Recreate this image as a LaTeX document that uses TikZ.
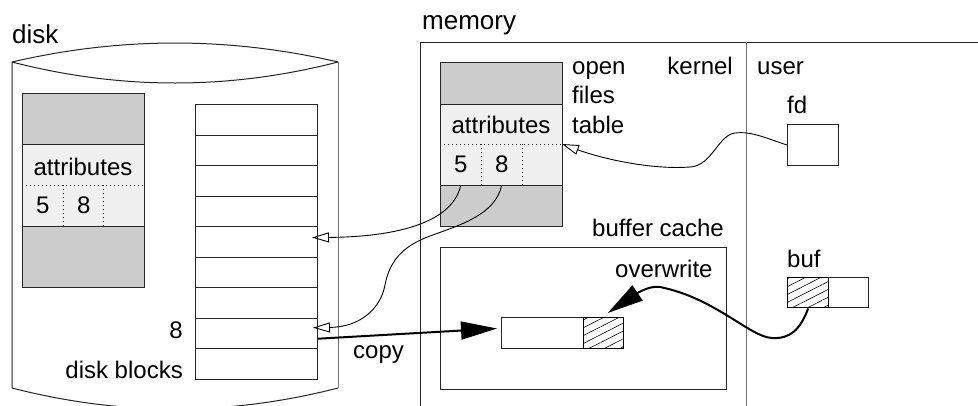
\documentclass[tikz,border=0pt]{standalone}
\usepackage{fontspec}
\setmainfont{Liberation Sans}
\usetikzlibrary{arrows.meta,patterns.meta}
\definecolor{inodegray}{HTML}{CCCCCC}
\definecolor{attrfill}{HTML}{F0F0F0}
\tikzset{
 ln/.style={line width=1pt, draw=black!85},
 lngray/.style={line width=1pt, draw=black!55},
 box/.style={ln, rectangle, inner sep=0pt, anchor=north west},
 cell/.style={rectangle, inner sep=0pt, anchor=north west, minimum width=41pt, minimum height=41pt, font=\fontsize{24}{28}\selectfont},
 txt/.style={inner sep=0pt, font=\fontsize{24}{28}\selectfont},
 big/.style={inner sep=0pt, font=\fontsize{26}{30}\selectfont},
 dots/.style={line width=1pt, dash pattern=on 1.2pt off 2.8pt, draw=black!85},
 ptr/.style={line width=0.9pt, draw=black, -{Triangle[open,length=17pt,width=10pt]}},
 bold/.style={line width=2pt, draw=black, -{Triangle[length=36pt,width=18pt]}},
 hatch/.style={pattern={Lines[angle=27,distance=7pt,line width=0.6pt]}, line width=1.4pt, draw=black},
}
\begin{document}
\begin{tikzpicture}[x=1pt,y=-1pt]
\useasboundingbox (0,0) rectangle (978,405);
\fill[white] (0,0) rectangle (978,405);
\clip (0,0) rectangle (978,405);

% ---------- disk ----------
\node[big, anchor=base west] (ldisk) at (12,43) {disk};
\draw[ln] (12,62) .. controls (120.7,36.7) and (229.3,36.7) .. (338,62);
\draw[ln] (12,62) .. controls (120.7,90) and (229.3,90) .. (338,62);
\draw[ln] (12,62) -- (12,388) .. controls (120.7,416) and (229.3,416) .. (338,388);
\draw[lngray] (338,62) -- (338,388);

% disk inode
\node[box, fill=inodegray, minimum width=122pt, minimum height=194pt] (dinode) at (22,93) {};
\node[box, fill=attrfill, minimum width=122pt, minimum height=82pt] (dattr) at (22,144) {};
\draw[dots] (22,185) -- (144,185);
\draw[dots] (63,185) -- (63,226);
\draw[dots] (103,185) -- (103,226);
\node[txt, anchor=base] (dattrtxt) at (83,175) {attributes};
\node[cell] (d5) at (22,185) {5};
\node[cell] (d8) at (63,185) {8};

% disk blocks
\foreach \i in {1,...,9}
  \node[box, minimum width=122pt, minimum height=30.56pt] (b\i) at (195,{104+30.56*(\i-1)}) {};
\node[txt, anchor=base east] (l8) at (183,338) {8};
\node[txt, anchor=base east] (ldb) at (183,378) {disk blocks};

% ---------- memory ----------
\node[big, anchor=base west] (lmem) at (422,29) {memory};
\draw[ln] (420,420) -- (420,42) -- (990,42);
\draw[lngray] (746,42) -- (746,420);

% memory inode
\node[box, fill=inodegray, minimum width=122pt, minimum height=164pt] (minode) at (440,62) {};
\node[box, fill=attrfill, minimum width=122pt, minimum height=81pt] (mattr) at (440,104) {};
\draw[dots] (440,144) -- (562,144);
\draw[dots] (481,144) -- (481,185);
\draw[dots] (522,144) -- (522,185);
\node[txt, anchor=base] (mattrtxt) at (501,133) {attributes};
\node[cell] (m5) at (440,144) {5};
\node[cell] (m8) at (481,144) {8};

\node[txt, anchor=base west] (lopen) at (572,74) {open};
\node[txt, anchor=base west] (lfiles) at (572,103.5) {files};
\node[txt, anchor=base west] (ltable) at (572,133) {table};
\node[txt, anchor=base east] (lkernel) at (733,74) {kernel};
\node[txt, anchor=base west] (luser) at (757,74) {user};

% fd
\node[txt, anchor=base west] (lfd) at (787,113) {fd};
\node[box, minimum width=51pt, minimum height=41pt] (fdbox) at (787,124) {};

% buffer cache
\node[txt, anchor=base east] (lbc) at (724,236) {buffer cache};
\node[box, minimum width=286pt, minimum height=142pt] (bcache) at (440,247) {};
\node[txt, anchor=base west] (lover) at (615,277) {overwrite};
\node[box, minimum width=122pt, minimum height=31pt] (bufc) at (501,317) {};
\node[box, hatch, minimum width=40pt, minimum height=31pt] (bufch) at (583,317) {};

% user buf
\node[txt, anchor=base west] (lbuf) at (787,267) {buf};
\node[box, minimum width=81pt, minimum height=30pt] (ubuf) at (787,277) {};
\node[box, hatch, minimum width=41pt, minimum height=30pt] (ubh) at (787,277) {};

\node[txt, anchor=base west] (lcopy) at (353,358) {copy};

% ---------- connectors ----------
\coordinate (t5) at ([xshift=-6pt,yshift=4.5pt]b5.east);
\coordinate (t8) at ([xshift=-5pt,yshift=6pt]b8.east);
\coordinate (tfd) at (562,144);
\coordinate (tcopy) at ([xshift=-4pt,yshift=4.5pt]bufc.west);
\coordinate (scopy) at ([yshift=-5pt]b8.east);
\coordinate (tow) at ([xshift=4pt,yshift=4pt]bufch.north);

\draw[ptr] (m5.south) .. controls (452,225) and (390,237) .. (t5);
\draw[ptr] (m8.south) .. controls (495,215) and (460,225) .. (430,236)
   .. controls (406,245) and (390,258) .. (385,285)
   .. controls (380.5,309) and (360,327) .. (t8);
\draw[ptr] (fdbox.west) .. controls (765,138) and (752,131) .. (735,133)
   .. controls (718,135) and (712,166) .. (690,167)
   .. controls (650,170) and (600,158) .. (tfd);
\draw[bold] (scopy) -- (tcopy);
\draw[bold] (ubh.south) .. controls (800,330) and (790,339) .. (772,338)
   .. controls (750,337) and (715,298) .. (660,287)
   .. controls (648,285) and (633,296) .. (tow);
\end{tikzpicture}
\end{document}
